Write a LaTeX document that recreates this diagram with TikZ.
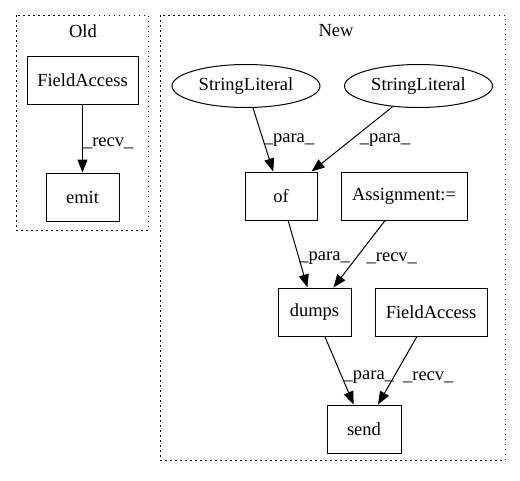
\documentclass[tikz,border=0pt]{standalone}
\usepackage{fontspec}
\setmainfont{Liberation Serif}
\usetikzlibrary{shapes.geometric,arrows.meta}
\begin{document}
\begin{tikzpicture}[x=1pt,y=-1pt,
  box/.style={draw=black,line width=1pt,rectangle,inner sep=0pt,minimum height=48pt,font=\fontsize{18.5}{22}\selectfont},
  oval/.style={draw=black,line width=1pt,ellipse,inner sep=0pt,minimum width=148pt,minimum height=43pt,font=\fontsize{18.5}{22}\selectfont},
  edge/.style={draw=black,line width=1pt,-{Triangle[length=13pt,width=10pt]}},
  lbl/.style={inner sep=0pt,anchor=west,font=\fontsize{18.5}{22}\selectfont},
  cluster/.style={draw=black,line width=0.9pt,dash pattern=on 1.5pt off 3.5pt},
  ctitle/.style={inner sep=0pt,font=\fontsize{18.5}{22}\selectfont}]
\useasboundingbox (0,0) rectangle (520,480);
\fill[white] (0,0) rectangle (520,480);
% clusters
\draw[cluster] (16,15) rectangle (148,230);
\draw[cluster] (160,15) rectangle (505,460);
\node[ctitle] (oldt) at (83,31) {Old};
\node[ctitle] (newt) at (336,31) {New};
% Old
\node[box,minimum width=111pt] (fa1) at (82.5,80.5) {FieldAccess};
\node[box,minimum width=73pt] (emit) at (82.5,197) {emit};
\draw[edge] (fa1) -- (emit) node[lbl,pos=0.57] {\_recv\_};
% New
\node[oval] (sl1) at (246,86) {StringLiteral};
\node[oval] (sl2) at (418.5,86) {StringLiteral};
\node[box,minimum width=72pt] (of) at (281,196) {of};
\node[box,minimum width=126pt] (asg) at (404,196) {Assignment:=};
\node[box,minimum width=73pt] (dumps) at (314.5,312) {dumps};
\node[box,minimum width=112pt] (fa2) at (431,312) {FieldAccess};
\node[box,minimum width=74pt] (send) at (364,429) {send};
\draw[edge] (sl1) -- (of) node[lbl,pos=0.51] {\_para\_};
\draw[edge] (sl2) -- (of) node[lbl,pos=0.51,xshift=8pt] {\_para\_};
\draw[edge] (of) -- (dumps) node[lbl,pos=0.56] {\_para\_};
\draw[edge] (asg) -- (dumps) node[lbl,pos=0.56,xshift=10pt] {\_recv\_};
\draw[edge] (dumps) -- (send) node[lbl,pos=0.6,xshift=1pt] {\_para\_};
\draw[edge] (fa2) -- (send) node[lbl,pos=0.6,xshift=9pt] {\_recv\_};
\end{tikzpicture}
\end{document}
